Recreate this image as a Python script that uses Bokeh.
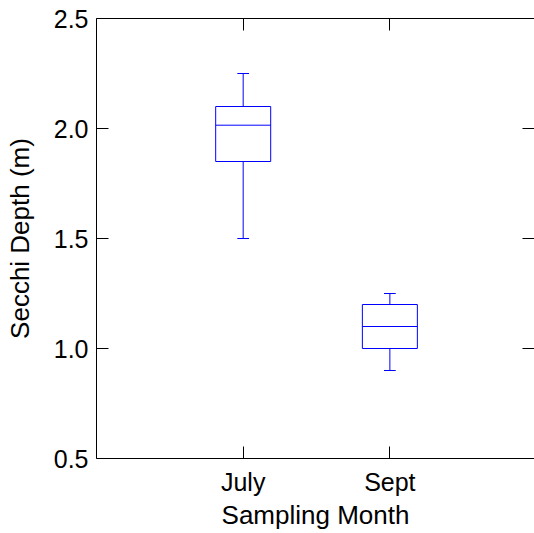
from bokeh.plotting import figure
from bokeh.models import LinearAxis, FixedTicker, Range1d, ColumnDataSource, PrintfTickFormatter
from bokeh.embed import file_html
from bokeh.resources import INLINE

months = ["July", "Sept"]
lower_whisker = [1.5, 0.9]
q1 = [1.85, 1.0]
median = [2.015, 1.1]
q3 = [2.1, 1.2]
upper_whisker = [2.25, 1.25]
y_ticks = [0.5, 1.0, 1.5, 2.0, 2.5]

pos = [i + 1 for i in range(len(months))]
box_half = 0.1875
cap_half = 0.04

src = ColumnDataSource(dict(
    x=pos,
    left=[v - box_half for v in pos],
    right=[v + box_half for v in pos],
    cap_l=[v - cap_half for v in pos],
    cap_r=[v + cap_half for v in pos],
    lw=lower_whisker, q1=q1, med=median, q3=q3, uw=upper_whisker,
))

FONT = "Liberation Sans"
TICK_FS = "25px"
LABEL_FS = "26px"
BLUE = "#0000ff"

p = figure(width=534, height=533, x_range=Range1d(0, 2.986), y_range=Range1d(0.5, 2.5),
           output_backend="svg", toolbar_location=None,
           min_border_left=96, min_border_top=18, min_border_bottom=75, min_border_right=0)
p.outline_line_color = None
p.xgrid.visible = False
p.ygrid.visible = False
p.background_fill_color = "white"
p.border_fill_color = "white"

# whiskers
p.segment(x0="x", y0="q3", x1="x", y1="uw", source=src, line_color=BLUE, line_width=1)
p.segment(x0="x", y0="lw", x1="x", y1="q1", source=src, line_color=BLUE, line_width=1)
p.segment(x0="cap_l", y0="uw", x1="cap_r", y1="uw", source=src, line_color=BLUE, line_width=1)
p.segment(x0="cap_l", y0="lw", x1="cap_r", y1="lw", source=src, line_color=BLUE, line_width=1)
# boxes
p.quad(left="left", right="right", bottom="q1", top="q3", source=src,
       fill_color=None, line_color=BLUE, line_width=1)
p.segment(x0="left", y0="med", x1="right", y1="med", source=src, line_color=BLUE, line_width=1)

xax = p.xaxis[0]
xax.ticker = FixedTicker(ticks=pos)
xax.major_label_overrides = {v: m for v, m in zip(pos, months)}
xax.axis_label = "Sampling Month"
yax = p.yaxis[0]
yax.ticker = FixedTicker(ticks=y_ticks)
yax.formatter = PrintfTickFormatter(format="%.1f")
yax.axis_label = "Secchi Depth (m)"

for ax in (xax, yax):
    ax.major_tick_in = 12
    ax.major_tick_out = 0
    ax.minor_tick_in = 0
    ax.minor_tick_out = 0
    ax.axis_line_color = "black"
    ax.major_tick_line_color = "black"
    ax.major_label_text_font = FONT
    ax.major_label_text_font_size = TICK_FS
    ax.major_label_text_color = "black"
    ax.axis_label_text_font = FONT
    ax.axis_label_text_font_size = LABEL_FS
    ax.axis_label_text_font_style = "normal"
    ax.axis_label_text_color = "black"

xax.major_label_standoff = 9
xax.axis_label_standoff = 1
yax.major_label_standoff = 8
yax.axis_label_standoff = 16

top = LinearAxis(ticker=FixedTicker(ticks=pos), major_tick_in=12, major_tick_out=0,
                 minor_tick_in=0, minor_tick_out=0,
                 major_label_overrides={v: "" for v in pos},
                 major_label_standoff=0, axis_line_color="black")
right = LinearAxis(ticker=FixedTicker(ticks=y_ticks), major_tick_in=12, major_tick_out=0,
                   minor_tick_in=0, minor_tick_out=0,
                   major_label_overrides={v: "" for v in y_ticks},
                   major_label_standoff=0, axis_line_color=None)
p.add_layout(top, "above")
p.add_layout(right, "right")

open("out.html", "w").write(file_html(p, INLINE))
